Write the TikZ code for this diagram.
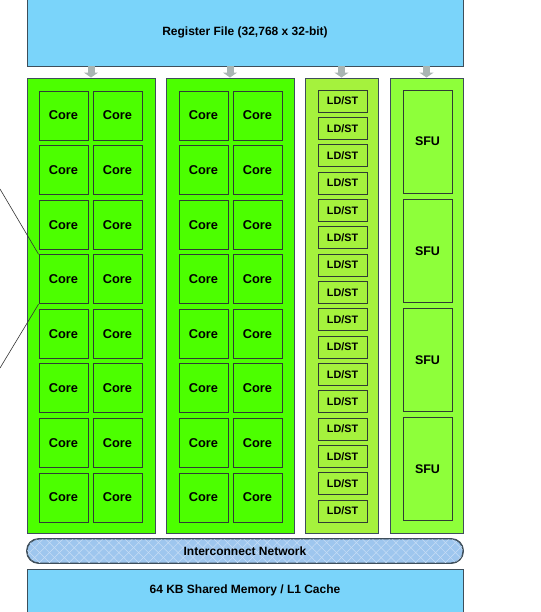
\documentclass[tikz,border=0pt]{standalone}
\usepackage{fontspec}
\setmainfont{Liberation Sans}
\usetikzlibrary{arrows.meta,positioning,patterns.meta}
\definecolor{memblue}{RGB}{122,212,250}
\definecolor{edgegray}{RGB}{62,78,90}
\definecolor{boxedge}{RGB}{48,60,52}
\definecolor{coregreen}{RGB}{76,255,0}
\definecolor{ldstgreen}{RGB}{165,242,61}
\definecolor{sfugreen}{RGB}{142,255,58}
\definecolor{arrowgray}{RGB}{169,181,179}
\definecolor{netblue}{RGB}{158,198,238}
\definecolor{netline}{RGB}{200,222,246}
\tikzset{
  unit/.style={draw=edgegray,line width=0.9pt,inner sep=0pt,font=\bfseries\fontsize{12}{14}\selectfont},
  memory/.style={unit,fill=memblue},
  column/.style={unit,minimum height=455pt},
  core/.style={unit,draw=boxedge,fill=coregreen,minimum width=49pt,minimum height=49pt,font=\bfseries\fontsize{12.8}{14}\selectfont},
  ldst/.style={unit,draw=boxedge,fill=ldstgreen,minimum width=49pt,minimum height=22pt,font=\bfseries\fontsize{10.8}{12}\selectfont},
  sfu/.style={unit,draw=boxedge,fill=sfugreen,minimum width=49pt,minimum height=103pt,font=\bfseries\fontsize{12.5}{14}\selectfont},
  feed/.style={-{Triangle[width=14pt,length=5pt]},line width=7pt,arrowgray,shorten <=-0.5pt}
}
\begin{document}
\begin{tikzpicture}[x=1pt,y=-1pt]
  \clip (0,0) rectangle (540,612);
  \node[memory,minimum width=436pt,minimum height=68pt] (regfile) at (245,32) {Register File (32,768 x 32-bit)};
  \node[column,fill=coregreen,minimum width=128pt] (col1) at (91,305.5) {};
  \node[column,fill=coregreen,minimum width=128pt] (col2) at (230,305.5) {};
  \node[column,fill=ldstgreen,minimum width=73pt] (col3) at (341.5,305.5) {};
  \node[column,fill=sfugreen,minimum width=73pt] (col4) at (426.5,305.5) {};
  \foreach \c in {1,...,4}
    \draw[feed] (regfile.south -| col\c) -- (col\c.north);
  \foreach \r in {1,...,8} {
    \node[core] (core-1-\r) at (63.5,{115.5+(\r-1)*54.57}) {Core};
    \node[core] (core-2-\r) at (117.5,{115.5+(\r-1)*54.57}) {Core};
    \node[core] (core-3-\r) at (203.5,{115.5+(\r-1)*54.57}) {Core};
    \node[core] (core-4-\r) at (257.5,{115.5+(\r-1)*54.57}) {Core};
  }
  \foreach \r in {1,...,16}
    \node[ldst] (ldst-\r) at (342.5,{101+(\r-1)*27.33}) {LD/ST};
  \foreach \r in {1,...,4}
    \node[sfu] (sfu-\r) at (427.5,{141.5+(\r-1)*109.3}) {SFU};
  \node[unit,fill=netblue,rounded corners=12pt,minimum width=436pt,minimum height=24pt] (network) at (245,551) {};
  \fill[pattern={Lines[angle=45,distance=7pt,line width=0.5pt]},pattern color=netline,rounded corners=12pt]
    (network.north west) rectangle (network.south east);
  \fill[pattern={Lines[angle=-45,distance=7pt,line width=0.5pt]},pattern color=netline,rounded corners=12pt]
    (network.north west) rectangle (network.south east);
  \draw[edgegray,line width=0.9pt,rounded corners=12pt] (network.north west) rectangle (network.south east);
  \node[font=\bfseries\fontsize{12}{14}\selectfont] at (network) {Interconnect Network};
  \node[memory,minimum width=436pt,minimum height=46pt] (shared) at (245,592) {};
  \node[font=\bfseries\fontsize{12}{14}\selectfont] at (245,590) {64 KB Shared Memory / L1 Cache};
  \coordinate (zoomtop) at (0,189);
  \coordinate (zoombot) at (0,368);
  \draw[black!80,line width=0.6pt] (zoomtop) -- (core-1-4.north west);
  \draw[black!80,line width=0.6pt] (core-1-4.south west) -- (zoombot);
\end{tikzpicture}
\end{document}
